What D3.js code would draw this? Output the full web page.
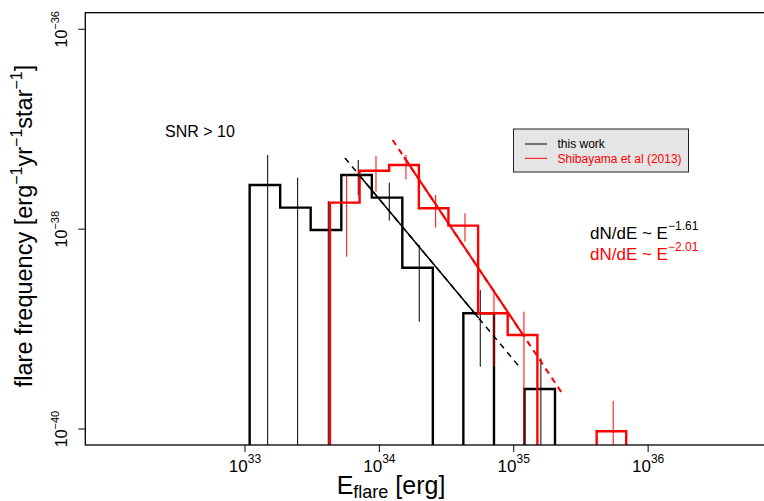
<!DOCTYPE html>
<html>
<head>
  <title>Flare frequency distribution</title>
<style>
  body {
    margin: 0;
    background-color: #fff;
    font-family: "Liberation Sans", Arial, Helvetica, sans-serif;
  }
  svg text {
    font-family: "Liberation Sans", Arial, Helvetica, sans-serif;
  }
</style>
</head>
<body>
  <div id="chart"></div>

  <script src="https://cdn.jsdelivr.net/npm/d3@7"></script>
  <script>
    // all energies / frequencies are log10 values
    const thisWorkEdges = [33.035, 33.262, 33.489, 33.717, 33.944, 34.171, 34.398, 34.625, 34.853, 35.080, 35.307];
    const thisWorkFreq = [-37.558, -37.785, -38.008, -37.458, -37.685, -38.386, null, -38.842, null, -39.600];
    const thisWorkErrE = [33.169, 33.392, 33.620, 33.843, 34.074, 34.297, 34.751, 35.202];
    const thisWorkErrHi = [-37.258, -37.485, -37.718, -37.308, -37.535, -38.159, -38.609, -39.292];
    const thisWorkErrLo = [null, null, null, -37.658, -37.915, -38.926, -39.376, null];

    const shibEdges = [33.632, 33.853, 34.073, 34.294, 34.514, 34.735, 34.955, 35.176, 35.396, 35.617, 35.837];
    const shibFreq = [-37.735, -37.415, -37.358, -37.791, -37.965, -38.842, -39.059, null, null, -40.022];
    const shibErrE = [33.757, 33.975, 34.198, 34.419, 34.637, 34.853, 35.076, 35.740];
    const shibErrHi = [-37.458, -37.268, -37.258, -37.658, -37.841, -38.602, -38.826, -39.720];
    const shibErrLo = [-38.276, -37.625, -37.501, -37.985, -38.125, -39.376, null, null];

    // power-law fits: slope, anchor point, solid part, dashed extent
    const fitSlopes = [-1.61, -2.01];
    const fitAnchorE = [33.744, 34.099];
    const fitAnchorF = [-37.288, -37.108];
    const fitSolid = [[33.843, 34.739], [34.184, 35.066]];
    const fitDashed = [[33.744, 35.05], [34.099, 35.372]];
    const fitLabels = ["\u22121.61", "\u22122.01"];

    const seriesNames = ["this work", "Shibayama et al (2013)"];
    const seriesColors = ["#000000", "#ff0000"];

    const xTicks = [33, 34, 35, 36];
    const yTicks = [-36, -38, -40];

    const width = 764;
    const height = 501;
    const plot = { left: 85.3, top: 12.7, right: 809.4, bottom: 445 };

    const svg = d3.select("#chart")
      .append("svg")
      .attr("width", width)
      .attr("height", height);

    const x = d3.scaleLog()
      .domain([Math.pow(10, 31.812), Math.pow(10, 37.2)])
      .range([plot.left, plot.right]);

    const y = d3.scaleLog()
      .domain([Math.pow(10, -40.16), Math.pow(10, -35.834)])
      .range([plot.bottom, plot.top]);

    const px = v => x(Math.pow(10, v));
    const py = v => v === null ? plot.bottom + 2 : y(Math.pow(10, v));

    svg.append("clipPath")
      .attr("id", "plot-clip")
      .append("rect")
      .attr("x", plot.left)
      .attr("y", plot.top)
      .attr("width", plot.right - plot.left)
      .attr("height", plot.bottom - plot.top);

    const g = svg.append("g").attr("clip-path", "url(#plot-clip)");

    function stepPath(edges, freq) {
      const pts = [[px(edges[0]), plot.bottom + 2]];
      freq.forEach((f, i) => {
        pts.push([px(edges[i]), py(f)]);
        pts.push([px(edges[i + 1]), py(f)]);
      });
      pts.push([px(edges[edges.length - 1]), plot.bottom + 2]);
      return d3.line()(pts);
    }

    function drawHist(edges, freq, color) {
      g.append("path")
        .attr("d", stepPath(edges, freq))
        .attr("fill", "none")
        .attr("stroke", color)
        .attr("stroke-width", 2.4)
        .attr("stroke-linejoin", "miter");
    }

    function drawErr(es, hi, lo, color) {
      g.selectAll(null)
        .data(es)
        .enter()
        .append("line")
        .attr("x1", d => px(d))
        .attr("x2", d => px(d))
        .attr("y1", (d, i) => py(hi[i]))
        .attr("y2", (d, i) => py(lo[i]))
        .attr("stroke", color)
        .attr("stroke-width", 1);
    }

    drawHist(thisWorkEdges, thisWorkFreq, seriesColors[0]);
    drawErr(thisWorkErrE, thisWorkErrHi, thisWorkErrLo, seriesColors[0]);
    drawHist(shibEdges, shibFreq, seriesColors[1]);
    drawErr(shibErrE, shibErrHi, shibErrLo, seriesColors[1]);

    // fit lines
    fitSlopes.forEach((s, i) => {
      const f = e => fitAnchorF[i] + s * (e - fitAnchorE[i]);
      const seg = r => d3.line()(r.map(e => [px(e), py(f(e))]));
      const lw = i === 0 ? 1.5 : 2;
      g.append("path")
        .attr("d", seg(fitDashed[i]))
        .attr("fill", "none")
        .attr("stroke", seriesColors[i])
        .attr("stroke-width", lw)
        .attr("stroke-dasharray", "6,5");
      g.append("path")
        .attr("d", seg(fitSolid[i]))
        .attr("fill", "none")
        .attr("stroke", seriesColors[i])
        .attr("stroke-width", lw);
    });

    // box (right side lies outside the window)
    svg.append("rect")
      .attr("x", plot.left)
      .attr("y", plot.top)
      .attr("width", plot.right - plot.left)
      .attr("height", plot.bottom - plot.top)
      .attr("fill", "none")
      .attr("stroke", "#000")
      .attr("stroke-width", 1.3);

    // x axis ticks + labels
    xTicks.forEach(k => {
      svg.append("line")
        .attr("x1", px(k)).attr("x2", px(k))
        .attr("y1", plot.bottom).attr("y2", plot.bottom + 7)
        .attr("stroke", "#000");
      const t = svg.append("text")
        .attr("x", px(k))
        .attr("y", 471.5)
        .attr("text-anchor", "middle")
        .attr("font-size", 17);
      t.append("tspan").text("10");
      t.append("tspan").attr("font-size", 12).attr("dy", -9).text(k);
    });

    // y axis ticks + labels
    yTicks.forEach(k => {
      svg.append("line")
        .attr("x1", plot.left - 7).attr("x2", plot.left)
        .attr("y1", py(k)).attr("y2", py(k))
        .attr("stroke", "#000");
      const t = svg.append("text")
        .attr("transform", `translate(67,${py(k)}) rotate(-90)`)
        .attr("text-anchor", "middle")
        .attr("font-size", 16);
      t.append("tspan").text("10");
      t.append("tspan").attr("font-size", 11).attr("dy", -8).text("\u2212" + Math.abs(k));
    });

    // axis titles
    const xt = svg.append("text")
      .attr("x", 391)
      .attr("y", 494)
      .attr("text-anchor", "middle")
      .attr("font-size", 25);
    xt.append("tspan").text("E");
    xt.append("tspan").attr("font-size", 18).attr("dy", 4).text("flare");
    xt.append("tspan").attr("dy", -4).text(" [erg]");

    const yt = svg.append("text")
      .attr("transform", "translate(32,226) rotate(-90)")
      .attr("text-anchor", "middle")
      .attr("font-size", 23.5);
    yt.append("tspan").text("flare frequency [erg");
    yt.append("tspan").attr("font-size", 16).attr("dy", -10).text("\u22121");
    yt.append("tspan").attr("dy", 10).text("yr");
    yt.append("tspan").attr("font-size", 16).attr("dy", -10).text("\u22121");
    yt.append("tspan").attr("dy", 10).text("star");
    yt.append("tspan").attr("font-size", 16).attr("dy", -10).text("\u22121");
    yt.append("tspan").attr("dy", 10).text("]");

    svg.append("text")
      .attr("x", 165)
      .attr("y", 137)
      .attr("font-size", 16)
      .text("SNR > 10");

    // power-law annotations
    fitLabels.forEach((lab, i) => {
      const t = svg.append("text")
        .attr("x", 590)
        .attr("y", 238.5 + i * 21)
        .attr("font-size", 17)
        .attr("fill", seriesColors[i]);
      t.append("tspan").text("dN/dE ~ E");
      t.append("tspan").attr("font-size", 12).attr("dy", -9).text(lab);
    });

    // legend
    const lg = svg.append("g");
    lg.append("rect")
      .attr("x", 513.5)
      .attr("y", 129)
      .attr("width", 175)
      .attr("height", 43)
      .attr("fill", "#e5e5e5")
      .attr("stroke", "#222")
      .attr("stroke-width", 1);
    seriesNames.forEach((name, i) => {
      lg.append("line")
        .attr("x1", 525).attr("x2", 547)
        .attr("y1", 144 + i * 14.3).attr("y2", 144 + i * 14.3)
        .attr("stroke", seriesColors[i])
        .attr("stroke-width", 1);
      lg.append("text")
        .attr("x", 557.5)
        .attr("y", 148.2 + i * 14.3)
        .attr("font-size", 12)
        .attr("fill", seriesColors[i])
        .text(name);
    });
  </script>
</body>
</html>
